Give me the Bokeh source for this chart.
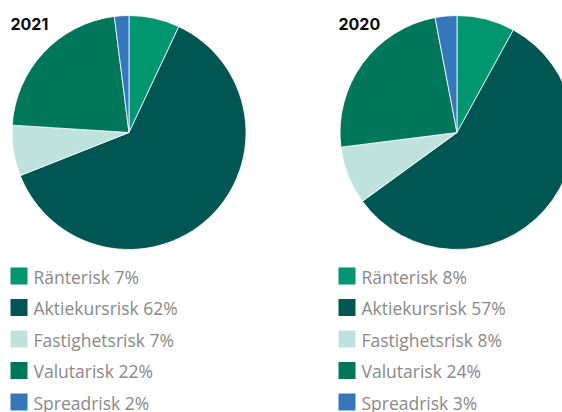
import numpy as np
from bokeh.plotting import figure
from bokeh.models import Range1d
from bokeh.core.properties import value
from bokeh.embed import file_html
from bokeh.resources import INLINE

categories = ["Ränterisk", "Aktiekursrisk", "Fastighetsrisk", "Valutarisk", "Spreadrisk"]
values_2021 = [7, 62, 7, 22, 2]
values_2020 = [8, 57, 8, 24, 3]
years = ["2021", "2020"]
colors = ["#00966f", "#005653", "#bfe2df", "#00775b", "#3677bb"]

W, H = 562, 412
p = figure(width=W, height=H, output_backend="svg", toolbar_location=None,
           x_range=Range1d(0, W), y_range=Range1d(0, H), min_border=0)
p.axis.visible = False
p.grid.visible = False
p.outline_line_color = None
p.background_fill_color = "white"
p.border_fill_color = "white"

def Y(py):
    return H - py

panels = [
    dict(vals=values_2021, year=years[0], cx=128.5, title_x=10, sq_x=10, txt_x=33),
    dict(vals=values_2020, year=years[1], cx=456.5, title_x=338, sq_x=338, txt_x=361),
]
cy = 132
r = 117
row_top = [267, 298.5, 330, 361.5, 393]

for pan in panels:
    vals = np.array(pan["vals"], dtype=float)
    frac = vals / vals.sum()
    cum = np.concatenate([[0], np.cumsum(frac)])
    start = np.pi / 2 - cum[:-1] * 2 * np.pi
    end = np.pi / 2 - cum[1:] * 2 * np.pi
    p.wedge(x=[pan["cx"]] * len(vals), y=[Y(cy)] * len(vals), radius=r,
            start_angle=list(start), end_angle=list(end), direction="clock",
            fill_color=colors, line_color="white", line_width=0.8)
    p.text(x=[pan["title_x"]], y=[Y(23.5)], text=[pan["year"]],
           text_font=value("Inter"), text_font_style="bold", text_font_size="16px",
           text_color="#0a0a0a", text_baseline="middle", text_align="left")
    labels = [f"{c} {int(v)}%" for c, v in zip(categories, pan["vals"])]
    tops = [Y(t) for t in row_top]
    bottoms = [Y(t + 17) for t in row_top]
    p.quad(left=[pan["sq_x"]] * 5, right=[pan["sq_x"] + 17] * 5, top=tops, bottom=bottoms,
           fill_color=colors, line_color=None)
    p.text(x=[pan["txt_x"]] * 5, y=[Y(t + 9) for t in row_top], text=labels,
           text_font=value("Open Sans"), text_font_size="17.5px", text_color="#898989",
           text_baseline="middle", text_align="left")

open("out.html", "w").write(file_html(p, INLINE))
